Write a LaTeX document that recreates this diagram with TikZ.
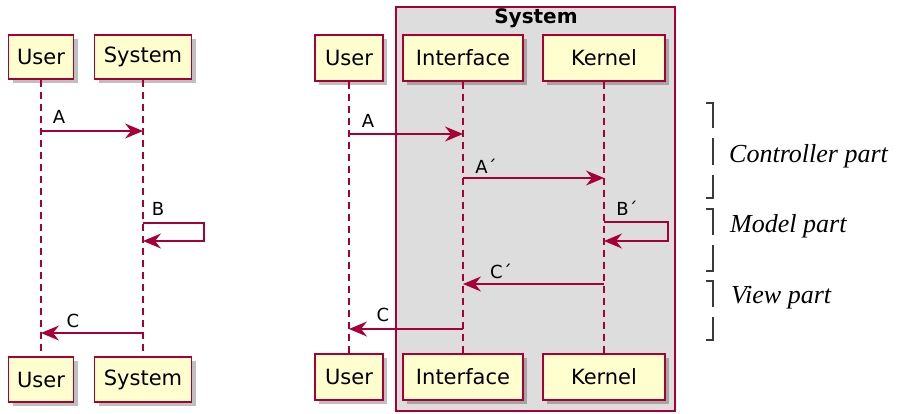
\documentclass[tikz,border=0pt]{standalone}
\usepackage{fontspec}
\setmainfont{DejaVu Sans}
\newfontfamily\notefont{Liberation Serif}
\usetikzlibrary{arrows.meta,shadows}

\definecolor{umlred}{HTML}{A80036}
\definecolor{umlbox}{HTML}{FEFECE}
\definecolor{umlgroup}{HTML}{DDDDDD}
\definecolor{bracketgray}{HTML}{3A3A3A}

\tikzset{
  actor/.style={draw=umlred, fill=umlbox, line width=1.4pt, inner sep=0pt,
    font=\fontsize{21}{25}\selectfont,
    drop shadow={shadow xshift=4pt, shadow yshift=-4pt, fill=black, opacity=0.25}},
  lifeline/.style={draw=umlred, line width=1.2pt, dash pattern=on 7pt off 5pt},
  msg/.style={draw=umlred, line width=1.4pt,
    -{Stealth[length=18pt, width=15pt, inset=6pt]}},
  msglabel/.style={font=\fontsize{18}{21}\selectfont, inner sep=0pt},
  bracket/.style={draw=bracketgray, line width=1.3pt},
  note/.style={font=\notefont\itshape\fontsize{26}{30}\selectfont, anchor=base west, inner sep=0pt}
}

\begin{document}
\begin{tikzpicture}[x=1pt, y=-1pt]
\useasboundingbox (0,0) rectangle (900,413);

% ---------- left diagram ----------
\node[actor, minimum width=65pt, minimum height=44pt] (lu1) at (41,57) {User};
\node[actor, minimum width=97pt, minimum height=44pt] (ls1) at (143,57) {System};
\node[actor, minimum width=65pt, minimum height=45pt] (lu2) at (41,379.5) {User};
\node[actor, minimum width=97pt, minimum height=45pt] (ls2) at (143,379.5) {System};

\draw[lifeline] (lu1.south) -- (lu2.north);
\draw[lifeline] (ls1.south) -- (ls2.north);

\coordinate (lA1) at (41,131);  \coordinate (lA2) at (143,131);
\coordinate (lB1) at (143,223); \coordinate (lB2) at (143,241);
\coordinate (lC1) at (143,333); \coordinate (lC2) at (41,333);

\draw[msg] (lA1) -- (lA2);
\draw[msg] (lB1) -- ++(61,0) |- (lB2);
\draw[msg] (lC1) -- (lC2);

\node[msglabel] (lAl) at (59,117) {A};
\node[msglabel] (lBl) at (158,209) {B};
\node[msglabel] (lCl) at (73,321) {C};

% ---------- right diagram ----------
\draw[draw=umlred, fill=umlgroup, line width=1.3pt] (396,7) rectangle (675,411);
\node[font=\bfseries\fontsize{20}{23}\selectfont, inner sep=0pt] (grp) at (536,18) {System};

\node[actor, minimum width=68pt, minimum height=46pt] (ru1) at (349,58) {User};
\node[actor, minimum width=120pt, minimum height=46pt] (ri1) at (463,58) {Interface};
\node[actor, minimum width=122pt, minimum height=46pt] (rk1) at (604,58) {Kernel};
\node[actor, minimum width=68pt, minimum height=46pt] (ru2) at (349,377) {User};
\node[actor, minimum width=120pt, minimum height=46pt] (ri2) at (463,377) {Interface};
\node[actor, minimum width=122pt, minimum height=46pt] (rk2) at (604,377) {Kernel};

\draw[lifeline] (ru1.south) -- (ru2.north);
\draw[lifeline] (ri1.south) -- (ri2.north);
\draw[lifeline] (rk1.south) -- (rk2.north);

\coordinate (rA1) at (349,134);  \coordinate (rA2) at (463,134);
\coordinate (rA3) at (463,178);  \coordinate (rA4) at (604,178);
\coordinate (rB1) at (604,222);  \coordinate (rB2) at (604,241);
\coordinate (rC1) at (604,284);  \coordinate (rC2) at (463,284);
\coordinate (rC3) at (463,329);  \coordinate (rC4) at (349,329);

\draw[msg] (rA1) -- (rA2);
\draw[msg] (rA3) -- (rA4);
\draw[msg] (rB1) -- ++(64,0) |- (rB2);
\draw[msg] (rC1) -- (rC2);
\draw[msg] (rC3) -- (rC4);

\node[msglabel] (rAl) at (368,121) {A};
\node[msglabel] (rA2l) at (486,166) {A´};
\node[msglabel] (rBl) at (627,208) {B´};
\node[msglabel] (rC2l) at (501,271) {C´};
\node[msglabel] (rCl) at (383,315) {C};

% ---------- bracket annotations ----------
% controller part
\draw[bracket] (706,103) -- (713,103) -- (713,128);
\draw[bracket] (713,138) -- (713,165);
\draw[bracket] (713,175) -- (713,198) -- (706,198);
% model part
\draw[bracket] (706,209) -- (713,209) -- (713,235);
\draw[bracket] (713,245) -- (713,271) -- (706,271);
% view part
\draw[bracket] (706,281) -- (713,281) -- (713,307);
\draw[bracket] (713,317) -- (713,340) -- (706,340);

\node[note] (nc) at (729,162) {Controller part};
\node[note] (nm) at (730,232) {Model part};
\node[note] (nv) at (731,303) {View part};
\end{tikzpicture}
\end{document}
